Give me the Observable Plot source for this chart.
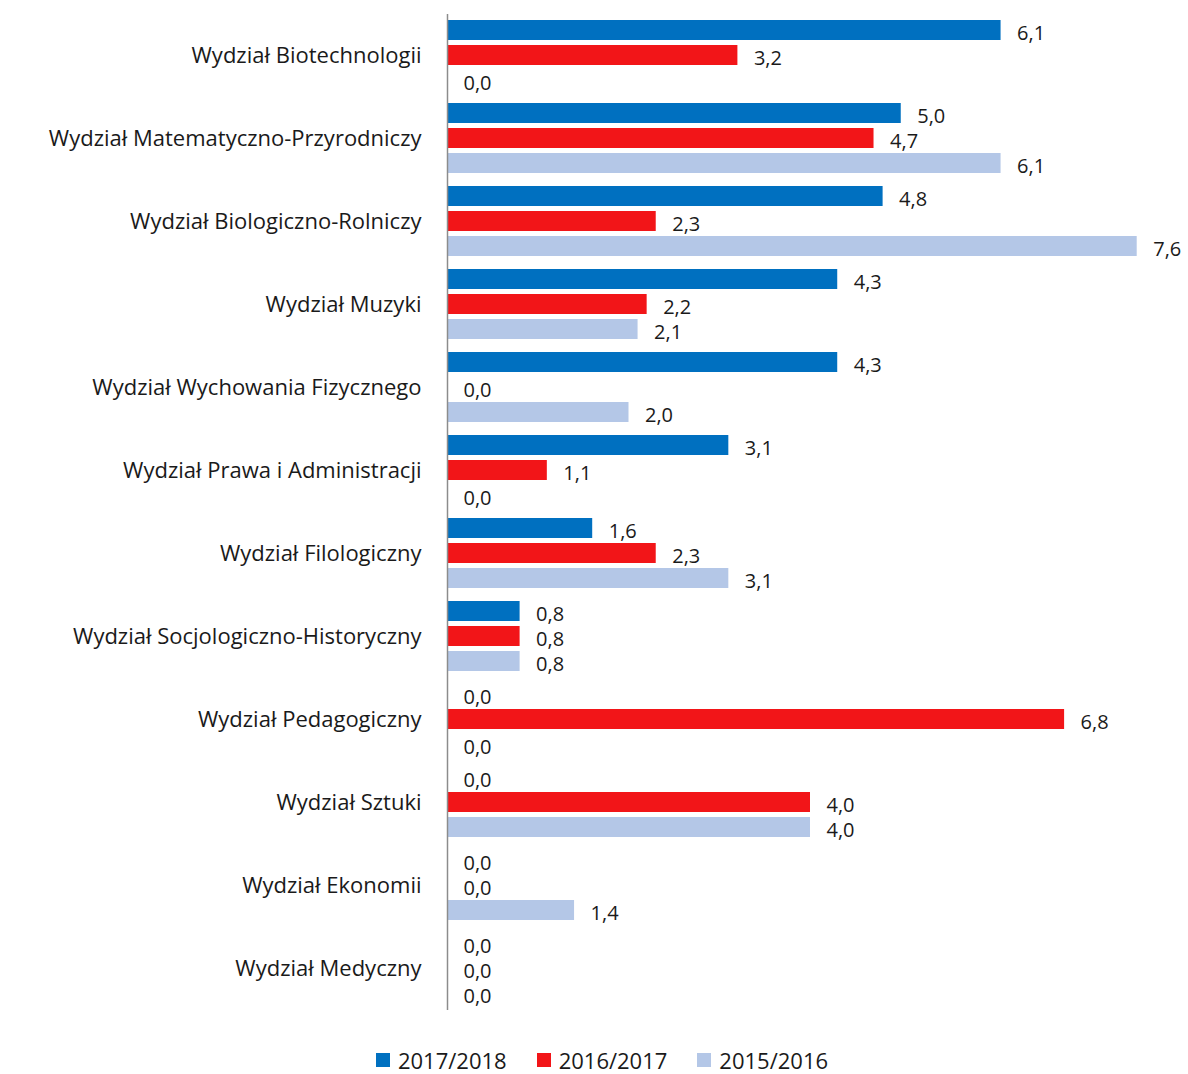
<!DOCTYPE html>
<html><head><meta charset="utf-8">
<script src="https://cdn.jsdelivr.net/npm/d3@7"></script>
<script src="https://cdn.jsdelivr.net/npm/@observablehq/plot@0.6"></script>
<style>
body{margin:0;background:#fff;font-family:"Open Sans",sans-serif;color:#1a1a1a;overflow:hidden}
#chart svg{display:block}
#legend{display:flex;justify-content:center;gap:30px;font-size:22px;line-height:28px;margin-top:16px;padding-left:16px}
#legend span.item{display:flex;align-items:center}
#legend span.sw{display:inline-block;width:14px;height:14px;margin-right:8px}
</style>
</head><body><div id="chart"></div><div id="legend"></div>
<script>
const categories = [
  "Wydział Biotechnologii",
  "Wydział Matematyczno-Przyrodniczy",
  "Wydział Biologiczno-Rolniczy",
  "Wydział Muzyki",
  "Wydział Wychowania Fizycznego",
  "Wydział Prawa i Administracji",
  "Wydział Filologiczny",
  "Wydział Socjologiczno-Historyczny",
  "Wydział Pedagogiczny",
  "Wydział Sztuki",
  "Wydział Ekonomii",
  "Wydział Medyczny"
];
const series = ["2017/2018", "2016/2017", "2015/2016"];
const values2017_2018 = [6.1, 5.0, 4.8, 4.3, 4.3, 3.1, 1.6, 0.8, 0.0, 0.0, 0.0, 0.0];
const values2016_2017 = [3.2, 4.7, 2.3, 2.2, 0.0, 1.1, 2.3, 0.8, 6.8, 4.0, 0.0, 0.0];
const values2015_2016 = [0.0, 6.1, 7.6, 2.1, 2.0, 0.0, 3.1, 0.8, 0.0, 4.0, 1.4, 0.0];
const colors = ["#0070C0", "#F21518", "#B4C7E7"];

const seriesValues = [values2017_2018, values2016_2017, values2015_2016];
const data = categories.flatMap((c, i) => series.map((s, j) => ({category: c, series: s, value: seriesValues[j][i]})));
const fmt = v => v.toFixed(1).replace(".", ",");

const chart = Plot.plot({
  width: 1188,
  height: 1030,
  marginLeft: 447,
  marginRight: 15,
  marginTop: 14,
  marginBottom: 20,
  style: {fontFamily: "'Open Sans', sans-serif", fontSize: "21px", color: "#1a1a1a", background: "#fff"},
  x: {domain: [0, 8], axis: null},
  y: {domain: series, axis: null, paddingInner: 0.19, paddingOuter: 0.23},
  fy: {domain: categories, padding: 0, axis: null},
  color: {domain: series, range: colors},
  marks: [
    Plot.barX(data, {fy: "category", y: "series", x: "value", fill: "series"}),
    Plot.text(data, {fy: "category", y: "series", x: "value", text: d => fmt(d.value), textAnchor: "start", dx: 16, dy: 3, fontSize: 20, fill: "#1a1a1a"}),
    Plot.ruleX([0], {stroke: "#8c8c8c", strokeWidth: 1.5}),
    Plot.axisFy({anchor: "left", tickSize: 0, tickPadding: 26, label: null, fontSize: 22, fill: "#1a1a1a"})
  ]
});
document.getElementById("chart").appendChild(chart);

const legend = document.getElementById("legend");
series.forEach((s, i) => {
  const item = document.createElement("span");
  item.className = "item";
  item.innerHTML = `<span class="sw" style="background:${colors[i]}"></span>${s}`;
  legend.appendChild(item);
});
</script>
</body></html>
